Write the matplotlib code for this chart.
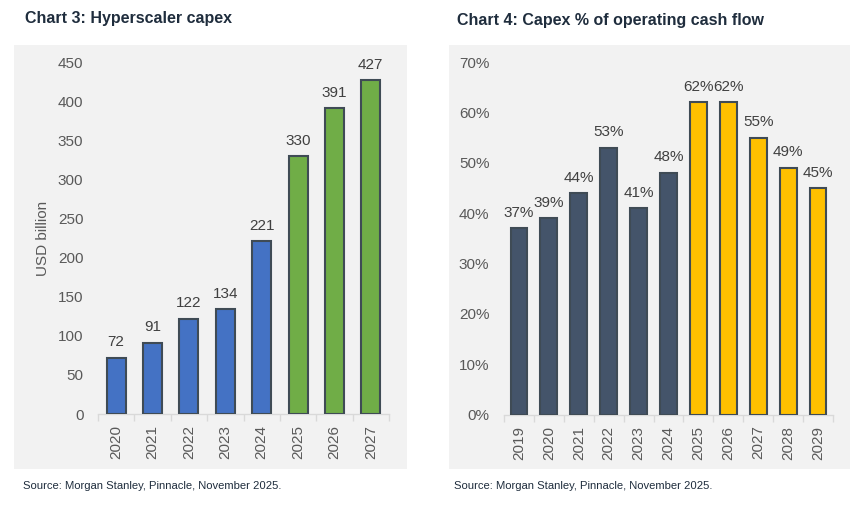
import numpy as np
import matplotlib
matplotlib.use("Agg")
import matplotlib.pyplot as plt
from matplotlib.patches import Rectangle
from matplotlib.ticker import FuncFormatter

plt.rcParams['font.family'] = ['Liberation Sans', 'DejaVu Sans']

# Chart 3 data
capex_years = ['2020', '2021', '2022', '2023', '2024', '2025', '2026', '2027']
capex_values = [72, 91, 122, 134, 221, 330, 391, 427]
capex_colors = ['#4472C4'] * 5 + ['#70AD47'] * 3

# Chart 4 data
ocf_years = ['2019', '2020', '2021', '2022', '2023', '2024', '2025', '2026', '2027', '2028', '2029']
ocf_values = [37, 39, 44, 53, 41, 48, 62, 62, 55, 49, 45]
ocf_colors = ['#44546A'] * 6 + ['#FFC000'] * 5

W, H = 860, 508
fig = plt.figure(figsize=(W / 100, H / 100), dpi=100)

def px_rect(x0, y0, x1, y1):
    # pixel box (top-left origin) -> figure fraction
    return [x0 / W, 1 - y1 / H, (x1 - x0) / W, (y1 - y0) / H]

# grey panels
for x0, x1 in [(14, 407), (449, 850)]:
    l, b, w, h = px_rect(x0, 45, x1, 469)
    fig.patches.append(Rectangle((l, b), w, h, transform=fig.transFigure,
                                 facecolor='#F2F2F2', edgecolor='none', zorder=-1))

title_color = '#1F2D3D'
fig.text(25 / W, 1 - 18 / H, 'Chart 3: Hyperscaler capex', fontsize=11.5, fontweight='bold',
         color=title_color, va='center', ha='left')
fig.text(457 / W, 1 - 20 / H, 'Chart 4: Capex % of operating cash flow', fontsize=11.5,
         fontweight='bold', color=title_color, va='center', ha='left')
fig.text(23 / W, 1 - 486 / H, 'Source: Morgan Stanley, Pinnacle, November 2025.',
         fontsize=8.1, color='#1F2D3D', va='center', ha='left')
fig.text(454 / W, 1 - 486 / H, 'Source: Morgan Stanley, Pinnacle, November 2025.',
         fontsize=8.1, color='#1F2D3D', va='center', ha='left')


def draw_bars(ax, cats, vals, colors, width, ymax, step, fmt):
    x = np.arange(len(cats))
    bars = ax.bar(x, vals, width=width, color=colors, edgecolor='#3F4B55', linewidth=1.5, zorder=3)
    for b, v in zip(bars, vals):
        ax.annotate(fmt(v), (b.get_x() + b.get_width() / 2, b.get_height()),
                    xytext=(0, 6), textcoords='offset points', ha='center', va='bottom',
                    fontsize=11, color='#404040')
    ax.set_facecolor('none')
    ax.set_xlim(-0.5, len(cats) - 0.5)
    ax.set_ylim(0, ymax)
    ax.set_yticks(np.arange(0, ymax + step / 2, step))
    ax.set_xticks(x)
    ax.set_xticklabels(cats, rotation=90)
    ax.set_xticks(np.arange(-0.5, len(cats), 1), minor=True)
    ax.tick_params(axis='x', which='major', length=0, pad=8, labelsize=11, labelcolor='#595959')
    ax.tick_params(axis='x', which='minor', length=5, color='#D9D9D9', width=1)
    ax.tick_params(axis='y', length=0, pad=10.5, labelsize=11, labelcolor='#595959')
    for s in ['top', 'right', 'left']:
        ax.spines[s].set_visible(False)
    ax.spines['bottom'].set_color('#D9D9D9')
    ax.spines['bottom'].set_linewidth(1)


ax1 = fig.add_axes(px_rect(98, 62, 389, 414))
draw_bars(ax1, capex_years, capex_values, capex_colors, 0.52, 450, 50, lambda v: f'{v}')
ax1.set_ylabel('USD billion', fontsize=11, color='#595959', labelpad=6)

ax2 = fig.add_axes(px_rect(504, 62, 833, 414.5))
draw_bars(ax2, ocf_years, ocf_values, ocf_colors, 0.56, 70, 10, lambda v: f'{v}%')
ax2.yaxis.set_major_formatter(FuncFormatter(lambda v, p: f'{v:.0f}%'))

fig.savefig('out.png', dpi=100)
